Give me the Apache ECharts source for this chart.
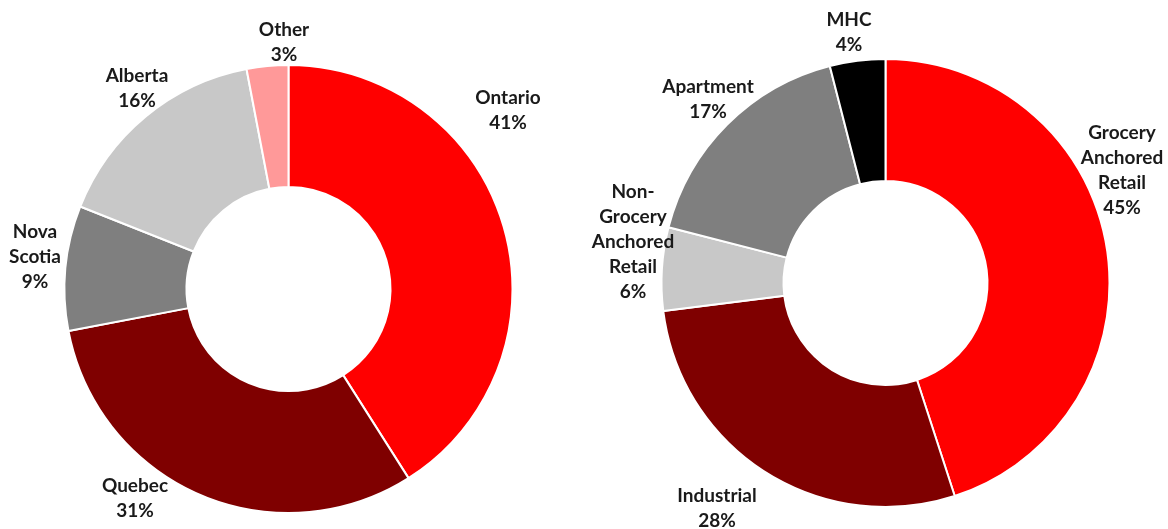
<!DOCTYPE html>
<html>
<head>
<meta charset="utf-8">
<script src="https://cdn.jsdelivr.net/npm/echarts@6/dist/echarts.min.js"></script>
<style>
  html, body { margin: 0; padding: 0; background: #fff; }
  #chart { width: 1168px; height: 529px; }
</style>
</head>
<body>
<div id="chart"></div>
<script>
// region split (left donut)
const regionNames = ['Ontario', 'Quebec', 'Nova Scotia', 'Alberta', 'Other'];
const regionValues = [41, 31, 9, 16, 3];
const regionColors = ['#FF0000', '#7F0000', '#7F7F7F', '#C8C8C8', '#FF9999'];

// asset type split (right donut)
const assetNames = ['Grocery Anchored Retail', 'Industrial', 'Non-Grocery Anchored Retail', 'Apartment', 'MHC'];
const assetValues = [45, 28, 6, 17, 4];
const assetColors = ['#FF0000', '#7F0000', '#C8C8C8', '#7F7F7F', '#000000'];

// where Excel put the labels (block centres, px)
const regionLabelPos = [[508, 110], [135, 498], [35, 257], [137, 88], [284, 42]];
const assetLabelPos = [[1122, 170], [717, 508], [633, 242], [708, 99], [849, 32]];

const chart = echarts.init(document.getElementById('chart'));

function wrapName(name) {
    return name.replace('Non-', 'Non-\n').replace(/ /g, '\n');
}

function donut(names, values, colors, center, labelPos) {
    return {
        type: 'pie',
        center: center,
        radius: [102, 224],
        startAngle: 90,
        clockwise: true,
        animation: false,
        itemStyle: { borderColor: '#fff', borderWidth: 2 },
        label: {
            show: true,
            position: 'outside',
            formatter: (p) => wrapName(p.name) + '\n' + p.value + '%',
            fontFamily: 'Lato',
            fontWeight: 'bold',
            fontSize: 19,
            lineHeight: 25,
            width: 130,
            overflow: 'none',
            align: 'center',
            color: '#1a1a1a',
        },
        labelLine: { show: false },
        labelLayout: (p) => ({
            x: labelPos[p.dataIndex][0],
            y: labelPos[p.dataIndex][1],
            align: 'center',
            verticalAlign: 'middle',
            hideOverlap: false,
            moveOverlap: null,
        }),
        emphasis: { disabled: true },
        data: names.map((n, i) => ({
            name: n,
            value: values[i],
            itemStyle: { color: colors[i] },
        })),
    };
}

chart.setOption({
    backgroundColor: '#fff',
    animation: false,
    series: [
        donut(regionNames, regionValues, regionColors, [288.5, 289], regionLabelPos),
        donut(assetNames, assetValues, assetColors, [885.5, 283], assetLabelPos),
    ],
});
</script>
</body>
</html>
